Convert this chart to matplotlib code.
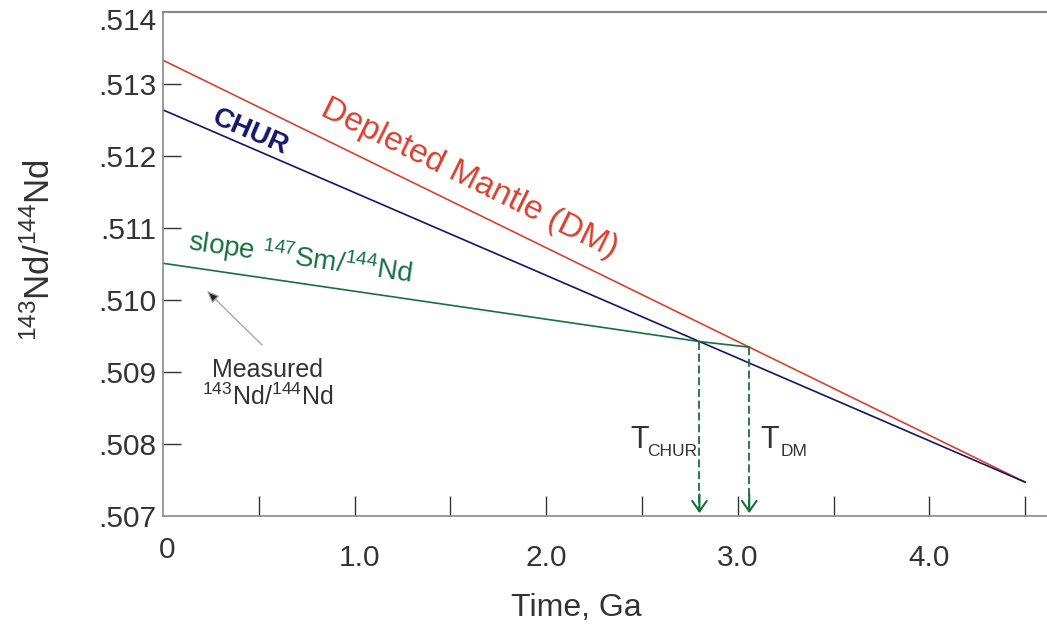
import numpy as np
import matplotlib
matplotlib.use("Agg")
import matplotlib.pyplot as plt
from matplotlib.transforms import ScaledTranslation

plt.rcParams['font.family'] = ['Liberation Sans', 'DejaVu Sans']
plt.rcParams['mathtext.fontset'] = 'custom'
plt.rcParams['mathtext.rm'] = 'Liberation Sans'
plt.rcParams['mathtext.it'] = 'Liberation Sans:italic'
plt.rcParams['mathtext.bf'] = 'Liberation Sans:bold'

# evolution lines (time in Ga, 143Nd/144Nd)
dm_t = [0.0, 4.5]
dm_nd = [0.51333, 0.50747]
chur_t = [0.0, 4.5]
chur_nd = [0.51264, 0.50747]
measured_nd = 0.51051
t_chur = 2.80
t_dm = 3.06

xticks = [0, 0.5, 1.0, 1.5, 2.0, 2.5, 3.0, 3.5, 4.0, 4.5]
xticklabels = ["0", "", "1.0", "", "2.0", "", "3.0", "", "4.0", ""]
yticks = [0.507, 0.508, 0.509, 0.510, 0.511, 0.512, 0.513, 0.514]
yticklabels = [".507", ".508", ".509", ".510", ".511", ".512", ".513", ".514"]

red = "#d8412f"
navy = "#14166a"
green = "#17703f"
grey = "#8a8a8a"
dark = "#333333"

fig = plt.figure(figsize=(10.47, 6.30), dpi=100)
ax = fig.add_axes([163/1047, 1-516/630, 1-163/1047, 504/630])
ax.set_xlim(0, 4.614)
ax.set_ylim(0.507, 0.514)

# green line from measured value to DM intersection
sm_nd_dm = np.interp(t_dm, dm_t, dm_nd)
sm_nd_chur = np.interp(t_chur, chur_t, chur_nd)
green_t = [0.0, t_chur, t_dm]
green_nd = [measured_nd, sm_nd_chur, sm_nd_dm]

ax.plot(dm_t, dm_nd, color=red, lw=1.2)
ax.plot(chur_t, chur_nd, color=navy, lw=1.2)
ax.plot(green_t, green_nd, color=green, lw=1.2)

# model age arrows
for t, y0 in [(t_chur, sm_nd_chur), (t_dm, sm_nd_dm)]:
    ax.plot([t, t], [y0, 0.50705], color=green, lw=1.3, ls=(0, (4.5, 2)))
    ax.annotate("", xy=(t, 0.50704), xytext=(t, 0.5073),
                arrowprops=dict(arrowstyle="->,head_length=0.5,head_width=0.35",
                                color=green, lw=1.5, mutation_scale=15,
                                shrinkA=0, shrinkB=0))

# spines and ticks
ax.spines['right'].set_visible(False)
for s in ['left', 'bottom', 'top']:
    ax.spines[s].set_color(grey)
    ax.spines[s].set_linewidth(1.2)
ax.spines['top'].set_linewidth(1.6)

ax.set_xticks(xticks)
ax.set_xticklabels(xticklabels)
ax.set_yticks(yticks)
ax.set_yticklabels(yticklabels)
ax.tick_params(axis='x', direction='in', length=14.5, width=1.0, color=dark,
               labelsize=21.5, labelcolor=dark, pad=20)
ax.tick_params(axis='y', direction='in', length=13, width=1.0, color=dark,
               labelsize=21.5, labelcolor=dark, pad=5)
xt = ax.xaxis.get_major_ticks()
yt = ax.yaxis.get_major_ticks()
xt[0].tick1line.set_visible(False)
yt[0].tick1line.set_visible(False)
yt[-1].tick1line.set_visible(False)
xt[0].label1.set_transform(xt[0].label1.get_transform()
                           + ScaledTranslation(4/100, 8/100, fig.dpi_scale_trans))
xt[2].label1.set_transform(xt[2].label1.get_transform()
                           + ScaledTranslation(5/100, 0, fig.dpi_scale_trans))
yt[-1].label1.set_transform(yt[-1].label1.get_transform()
                            + ScaledTranslation(0, -7/100, fig.dpi_scale_trans))

ax.set_xlabel("Time, Ga", fontsize=23, color=dark)
ax.xaxis.set_label_coords(0.468, -0.183)
ax.xaxis.label.set_va('center')
ax.set_ylabel(r"$^{143}$Nd/$^{144}$Nd", fontsize=25, color=dark)
ax.yaxis.set_label_coords(-0.14, 0.528)
ax.yaxis.label.set_va('center')


def screen_angle(t, nd):
    p = ax.transData.transform(np.column_stack([t, nd]))
    return np.degrees(np.arctan2(p[-1, 1] - p[0, 1], p[-1, 0] - p[0, 0]))


ax.text(1.597, 0.511681, "Depleted Mantle (DM)", color=red, fontsize=24,
        rotation=screen_angle(dm_t, dm_nd), rotation_mode='anchor',
        ha='center', va='center')
ax.text(0.454, 0.512333, "CHUR", color=navy, fontsize=20, fontweight='bold',
        rotation=screen_angle(chur_t, chur_nd), rotation_mode='anchor',
        ha='center', va='center')
ax.text(0.715, 0.510583, r"slope $^{147}$Sm/$^{144}$Nd", color=green, fontsize=20,
        rotation=screen_angle(green_t[:2], green_nd[:2]), rotation_mode='anchor',
        ha='center', va='center')

ax.text(0.548, 0.508833, "Measured\n" + r"$^{143}$Nd/$^{144}$Nd", fontsize=18,
        color=dark, ha='center', va='center', linespacing=1.05)
ax.annotate("", xy=(0.2297, 0.510125), xytext=(0.517, 0.509375),
            arrowprops=dict(arrowstyle="-|>,head_length=0.6,head_width=0.25",
                            fc="#222222", ec="#a0a0a0", lw=0.9, mutation_scale=12,
                            shrinkA=0, shrinkB=0))

# model age labels
ax.text(2.437, 0.507944, "T", fontsize=22, color=dark, ha='left', va='baseline')
ax.text(2.526, 0.507840, "CHUR", fontsize=12.5, color=dark, ha='left', va='baseline')
ax.text(3.116, 0.507944, "T", fontsize=22, color=dark, ha='left', va='baseline')
ax.text(3.226, 0.507830, "DM", fontsize=12.5, color=dark, ha='left', va='baseline')

fig.savefig("out.png", dpi=100)
